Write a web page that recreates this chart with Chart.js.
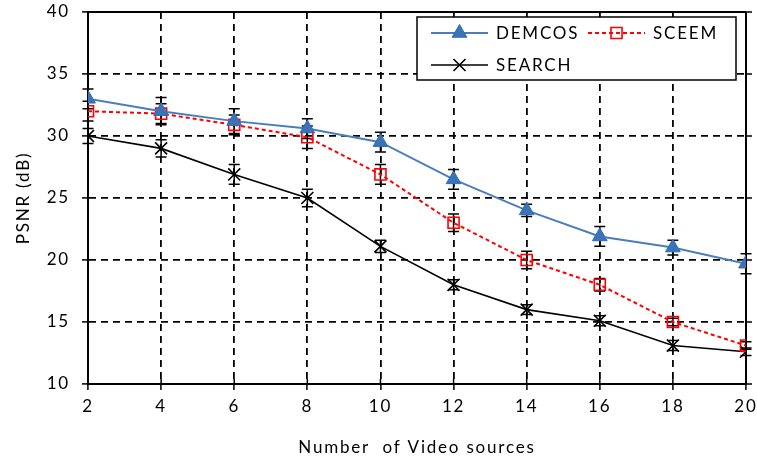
<!DOCTYPE html>
<html>
<head>
<meta charset="utf-8">
<script src="https://cdn.jsdelivr.net/npm/chart.js@4.4.1/dist/chart.umd.min.js"></script>
<style>
  html, body { margin: 0; padding: 0; background: #ffffff; }
  #wrap { width: 757px; height: 459px; }
</style>
</head>
<body>
<div id="wrap"><canvas id="c" width="757" height="459"></canvas></div>
<script>
// Number of video sources
const sources = [2, 4, 6, 8, 10, 12, 14, 16, 18, 20];

// PSNR (dB) per scheme
const demcos = [33.0, 32.0, 31.2, 30.6, 29.5, 26.5, 24.0, 21.9, 21.0, 19.7];
const sceem  = [32.0, 31.8, 30.9, 29.9, 26.9, 23.0, 20.0, 18.0, 15.0, 13.1];
const search = [30.0, 29.0, 26.9, 25.0, 21.1, 18.0, 16.0, 15.1, 13.1, 12.6];

// Half-width of the error bars (dB)
const demcosErr = [0.8, 1.1, 1.0, 0.8, 0.8, 0.8, 0.5, 0.8, 0.6, 0.8];
const sceemErr  = [0.8, 0.8, 0.8, 0.9, 0.8, 0.7, 0.7, 0.5, 0.3, 0.3];
const searchErr = [0.6, 0.7, 0.8, 0.7, 0.5, 0.4, 0.4, 0.4, 0.4, 0.3];

// Axis ticks
const xTicks = [2, 4, 6, 8, 10, 12, 14, 16, 18, 20];
const yTicks = [10, 15, 20, 25, 30, 35, 40];

const FONT = 'Lato, "Open Sans", sans-serif';
const SPACING = '1.8px';
const FSIZE = 17;

const toPoints = (ys) => sources.map((x, i) => ({ x: x, y: ys[i] }));

// Black capped error bars drawn under the markers
const errorBars = {
  id: 'errorBars',
  beforeDatasetsDraw(chart) {
    const { ctx, scales: { x, y } } = chart;
    ctx.save();
    ctx.strokeStyle = '#000';
    ctx.lineWidth = 1.5;
    chart.data.datasets.forEach((ds) => {
      ds.data.forEach((p, i) => {
        const e = ds.errors[i];
        const px = x.getPixelForValue(p.x);
        const top = y.getPixelForValue(p.y + e);
        const bot = y.getPixelForValue(p.y - e);
        const cap = 5.5;
        ctx.beginPath();
        ctx.moveTo(px, top); ctx.lineTo(px, bot);
        ctx.moveTo(px - cap, top); ctx.lineTo(px + cap, top);
        ctx.moveTo(px - cap, bot); ctx.lineTo(px + cap, bot);
        ctx.stroke();
      });
    });
    ctx.restore();
  }
};

// Solid frame on top/right, with outward ticks on the right side
const frame = {
  id: 'frame',
  beforeDatasetsDraw(chart) {
    const { ctx, chartArea: a, scales: { x, y } } = chart;
    ctx.save();
    ctx.strokeStyle = '#000';
    ctx.lineWidth = 2;
    ctx.beginPath();
    ctx.moveTo(a.left, a.top); ctx.lineTo(a.right, a.top);
    ctx.moveTo(a.right, a.top); ctx.lineTo(a.right, a.bottom);
    ctx.stroke();
    ctx.lineWidth = 1.5;
    ctx.beginPath();
    yTicks.forEach((v) => {
      const py = y.getPixelForValue(v);
      ctx.moveTo(a.right, py); ctx.lineTo(a.right + 6, py);
    });
    // inner half of the x-axis tick marks
    xTicks.forEach((v) => {
      const px = x.getPixelForValue(v);
      ctx.moveTo(px, a.bottom); ctx.lineTo(px, a.bottom - 5);
    });
    ctx.stroke();
    ctx.restore();
  }
};

// Boxed legend: two entries on the first row, one on the second
const boxLegend = {
  id: 'boxLegend',
  afterDraw(chart) {
    const { ctx, chartArea: a } = chart;
    const left = a.right - 329, top = a.top + 5, w = 319, h = 63;
    ctx.save();
    ctx.fillStyle = '#fff';
    ctx.fillRect(left, top, w, h);
    ctx.strokeStyle = '#000';
    ctx.lineWidth = 1.5;
    ctx.strokeRect(left, top, w, h);
    const slots = [
      { x: left + 14, y: top + 16 },
      { x: left + 171, y: top + 16 },
      { x: left + 14, y: top + 48 }
    ];
    chart.data.datasets.forEach((ds, i) => {
      const s = slots[i];
      const len = 57;
      ctx.save();
      ctx.strokeStyle = ds.borderColor;
      ctx.lineWidth = ds.borderWidth;
      ctx.setLineDash(ds.borderDash || []);
      ctx.beginPath();
      ctx.moveTo(s.x, s.y); ctx.lineTo(s.x + len, s.y);
      ctx.stroke();
      ctx.restore();
      ctx.save();
      ctx.strokeStyle = ds.pointBorderColor;
      ctx.fillStyle = ds.pointBackgroundColor;
      ctx.lineWidth = ds.pointBorderWidth;
      Chart.helpers.drawPoint(ctx, {
        pointStyle: ds.pointStyle,
        radius: ds.pointRadius,
        borderWidth: ds.pointBorderWidth,
        rotation: 0
      }, s.x + len / 2, s.y);
      ctx.restore();
      ctx.save();
      ctx.letterSpacing = SPACING;
      ctx.fillStyle = '#000';
      ctx.font = FSIZE + 'px ' + FONT;
      ctx.textBaseline = 'middle';
      ctx.fillText(ds.label, s.x + len + 8, s.y + 1);
      ctx.restore();
    });
    ctx.restore();
  }
};

const spacing = {
  id: 'spacing',
  beforeUpdate(chart) { chart.ctx.letterSpacing = SPACING; },
  beforeDraw(chart) { chart.ctx.letterSpacing = SPACING; }
};

const gridOpts = {
  color: '#000',
  lineWidth: 1.8,
  tickLength: 6,
  tickColor: '#000',
  tickWidth: 1.5
};

new Chart(document.getElementById('c'), {
  type: 'line',
  data: {
    datasets: [
      {
        label: 'DEMCOS',
        data: toPoints(demcos),
        errors: demcosErr,
        borderColor: '#4a7ebb',
        borderWidth: 2,
        pointStyle: 'triangle',
        pointRadius: 8.5,
        pointBackgroundColor: '#3c73b6',
        pointBorderColor: '#2f6db8',
        pointBorderWidth: 1,
        tension: 0
      },
      {
        label: 'SCEEM',
        data: toPoints(sceem),
        errors: sceemErr,
        borderColor: '#ff0000',
        borderWidth: 2,
        borderDash: [4, 3],
        pointStyle: 'rect',
        pointRadius: 7.8,
        pointBackgroundColor: 'rgba(255,255,255,0)',
        pointBorderColor: '#ff0000',
        pointBorderWidth: 1.6,
        tension: 0
      },
      {
        label: 'SEARCH',
        data: toPoints(search),
        errors: searchErr,
        borderColor: '#000000',
        borderWidth: 1.6,
        pointStyle: 'crossRot',
        pointRadius: 8.5,
        pointBackgroundColor: '#000',
        pointBorderColor: '#000',
        pointBorderWidth: 1.6,
        tension: 0
      }
    ]
  },
  options: {
    responsive: false,
    devicePixelRatio: 1,
    animation: false,
    layout: { padding: { top: 12, right: 11, left: 0, bottom: 0 } },
    plugins: {
      legend: { display: false },
      tooltip: { enabled: false }
    },
    scales: {
      x: {
        type: 'linear',
        min: 2,
        max: 20,
        afterBuildTicks(scale) { scale.ticks = xTicks.map((v) => ({ value: v })); },
        afterFit(scale) {
          scale.height = 75;
          scale.paddingLeft = 0;
          scale.paddingRight = 0;
        },
        ticks: { color: '#000', font: { size: FSIZE, family: FONT }, padding: 6, maxRotation: 0 },
        grid: gridOpts,
        border: { color: '#000', width: 2, dash: [7, 5] },
        title: {
          display: true,
          text: 'Number  of Video sources',
          color: '#000',
          font: { size: FSIZE, family: FONT },
          padding: 1
        }
      },
      y: {
        min: 10,
        max: 40,
        afterBuildTicks(scale) { scale.ticks = yTicks.map((v) => ({ value: v })); },
        afterFit(scale) {
          scale.width = 88;
          scale.paddingTop = 0;
          scale.paddingBottom = 0;
        },
        ticks: { color: '#000', font: { size: FSIZE, family: FONT }, padding: 12 },
        grid: gridOpts,
        border: { color: '#000', width: 2, dash: [7, 5] },
        title: {
          display: true,
          text: 'PSNR (dB)',
          color: '#000',
          font: { size: FSIZE, family: FONT },
          padding: 13
        }
      }
    }
  },
  plugins: [spacing, errorBars, frame, boxLegend]
});
</script>
</body>
</html>
